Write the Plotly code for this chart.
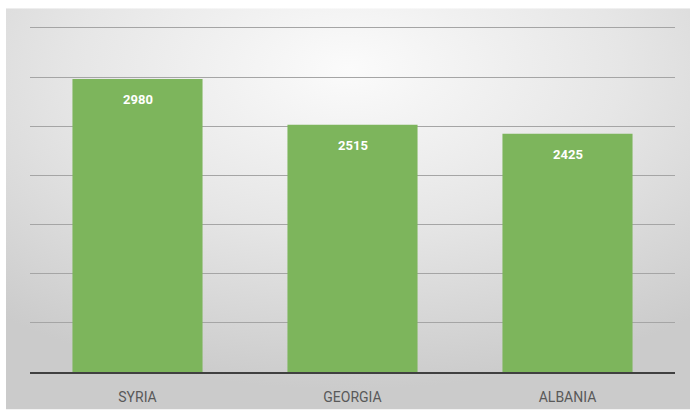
import base64
import plotly.graph_objects as go

categories = ["SYRIA", "GEORGIA", "ALBANIA"]
values = [2980, 2515, 2425]
tick_vals = [0, 500, 1000, 1500, 2000, 2500, 3000, 3500]

W, H = 690, 417
L, R, T, B = 30, 15, 26, 40
pw, ph = W - L - R, H - T - B

svg = (
    '<svg xmlns="http://www.w3.org/2000/svg" width="684" height="407" viewBox="0 0 684 407" preserveAspectRatio="none">'
    '<defs><radialGradient id="g" cx="0.5" cy="0.15" r="0.8" fx="0.5" fy="0.15">'
    '<stop offset="0" stop-color="#fbfbfb"/><stop offset="0.5" stop-color="#e6e6e6"/>'
    '<stop offset="1" stop-color="#cbcbcb"/></radialGradient></defs>'
    '<rect width="684" height="407" fill="url(#g)"/></svg>'
)
src = "data:image/svg+xml;base64," + base64.b64encode(svg.encode()).decode()

fig = go.Figure(go.Bar(x=categories, y=values, marker=dict(color="#7db55c", line=dict(width=0)),
                       hoverinfo="skip"))

for c, v in zip(categories, values):
    fig.add_annotation(x=c, y=v, text="<b>%d</b>" % v, showarrow=False, yanchor="top", yshift=-11,
                       font=dict(color="white", size=13, family="Liberation Sans Narrow, Roboto, sans-serif"))

fig.add_layout_image(dict(source=src, xref="paper", yref="paper",
                          x=(6 - L) / pw, y=(H - B - 8) / ph,
                          sizex=684 / pw, sizey=407 / ph,
                          xanchor="left", yanchor="top", sizing="stretch", layer="below"))

fig.update_layout(
    width=W, height=H,
    margin=dict(l=L, r=R, t=T, b=B),
    paper_bgcolor="white", plot_bgcolor="rgba(0,0,0,0)",
    bargap=0.395, showlegend=False,
    xaxis=dict(showgrid=False, showline=True, linecolor="#404040", linewidth=2,
               ticks="outside", ticklen=11, tickcolor="rgba(0,0,0,0)",
               tickfont=dict(color="#595959", size=14, family="Liberation Sans Narrow, Roboto, sans-serif")),
    yaxis=dict(range=[0, 3520], tickvals=tick_vals, showticklabels=False, showgrid=True,
               gridcolor="#a5a5a5", gridwidth=1, zeroline=False, showline=False),
)

fig.write_html("out.html")
